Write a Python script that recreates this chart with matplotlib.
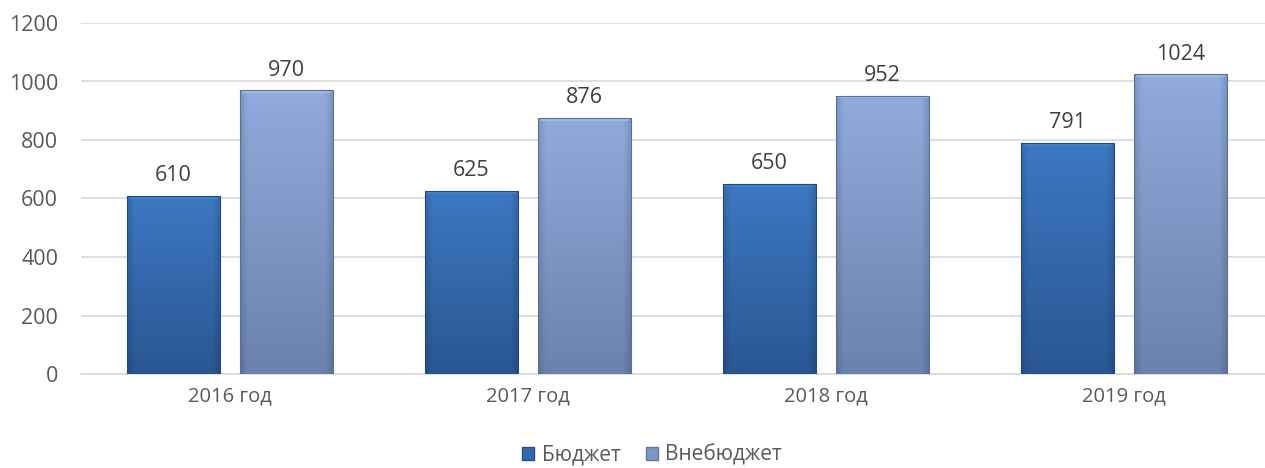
import numpy as np
import matplotlib
matplotlib.use("Agg")
import matplotlib.pyplot as plt
from matplotlib.colors import to_rgb
from matplotlib.patches import Patch

categories = ["2016 год", "2017 год", "2018 год", "2019 год"]
budget = [610, 625, 650, 791]
extra = [970, 876, 952, 1024]
series_names = ["Бюджет", "Внебюджет"]
yticks = [0, 200, 400, 600, 800, 1000, 1200]

plt.rcParams['font.family'] = ['Open Sans', 'DejaVu Sans']
TXT = '#595959'

fig = plt.figure(figsize=(12.65, 4.68), dpi=100)
ax = fig.add_axes([81/1265, 1-374/468, 1-81/1265, (374-23)/468])

x = np.arange(len(categories))
w = 0.31
off = 0.19

# (top colour, bottom colour)
schemes = [("#3d78c2", "#2a5793"), ("#90abdc", "#6c82ae")]

ax.set_xlim(-0.5, -0.5 + (1265-81)/298)
ax.set_ylim(0, 1200)

def grad_bar(xc, h, top, bottom):
    bars = ax.bar([xc], [h], width=w, facecolor='none', edgecolor='none', zorder=3)
    p = bars[0]
    t = np.array(to_rgb(top)); b = np.array(to_rgb(bottom))
    ny, nx = 100, 40
    fy = np.linspace(0, 1, ny)[:, None, None]  # 0 top -> 1 bottom
    img = t * (1 - fy) + b * fy
    img = np.repeat(img, nx, axis=1)
    xs = np.linspace(-1, 1, nx)
    edge = 1 - 0.12 * np.clip((np.abs(xs) - 0.85) / 0.15, 0, 1)
    img = img * edge[None, :, None]
    im = ax.imshow(img, extent=[xc - w/2, xc + w/2, 0, h], aspect='auto',
                   zorder=3, interpolation='bilinear')
    im.set_clip_path(p)
    # bevel highlight at top
    ax.bar([xc], [10], bottom=h - 10, width=w*0.96, color=tuple(np.clip(t*1.12, 0, 1)),
           edgecolor='none', zorder=4, alpha=0.7)
    ax.bar([xc], [h], width=w, facecolor='none', edgecolor=tuple(b*0.85), linewidth=0.8, zorder=5)
    ax.annotate(str(h), (xc, h), xytext=(0, 7), textcoords='offset points',
                ha='center', va='bottom', fontsize=15.5, color='#404040')

for i in range(len(categories)):
    grad_bar(x[i] - off, budget[i], *schemes[0])
    grad_bar(x[i] + off, extra[i], *schemes[1])

ax.set_yticks(yticks)
ax.set_yticklabels([str(v) for v in yticks])
ax.set_xticks(x)
ax.set_xticklabels(categories)
ax.tick_params(axis='both', length=0, colors=TXT)
ax.tick_params(axis='y', pad=16.5, labelsize=15.5)
ax.tick_params(axis='x', pad=9, labelsize=14.5)
ax.grid(axis='y', color='#d9d9d9', linewidth=1.2, zorder=0)
ax.set_axisbelow(True)
for s in ['top', 'right', 'left']:
    ax.spines[s].set_visible(False)
ax.spines['bottom'].set_color('#d9d9d9')
ax.spines['bottom'].set_linewidth(1.2)

handles = [Patch(facecolor="#3468ad", edgecolor="#27508a", label=series_names[0]),
           Patch(facecolor="#7f97c6", edgecolor="#60759e", label=series_names[1])]
fig.legend(handles=handles, loc='center', bbox_to_anchor=(652/1265, 1-455/468), ncol=2,
           frameon=False, fontsize=15, labelcolor=TXT, handlelength=0.6, handleheight=0.6,
           handletextpad=0.35, columnspacing=1.2)

fig.savefig("out.png", dpi=100)
